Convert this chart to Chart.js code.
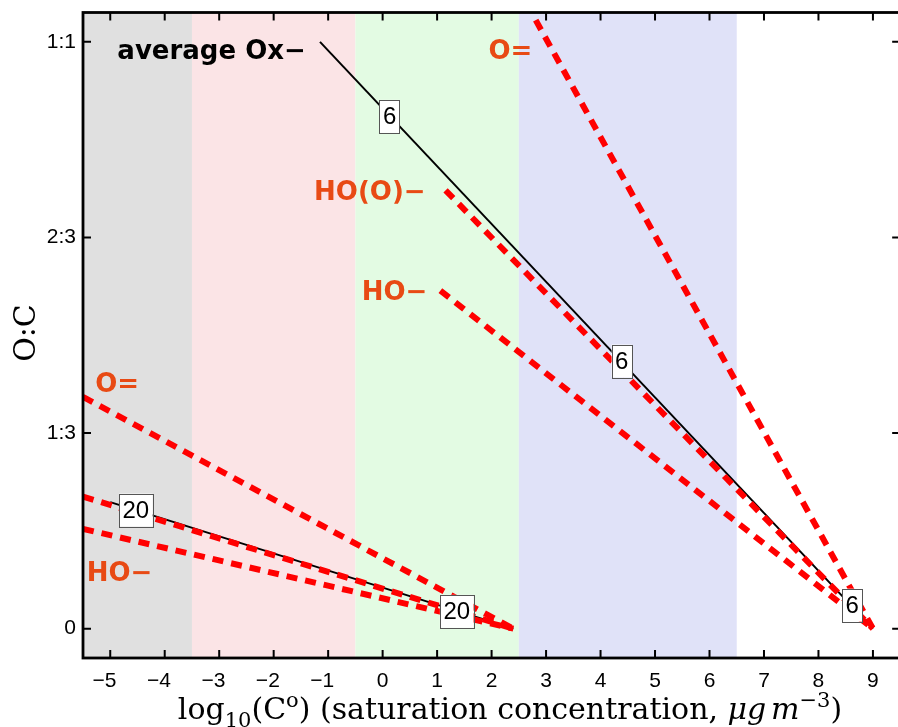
<!DOCTYPE html>
<html>
<head>
<meta charset="utf-8">
<script src="https://cdn.jsdelivr.net/npm/chart.js@4.4.1/dist/chart.umd.min.js"></script>
<style>
html, body { margin: 0; padding: 0; background: #fff; }
#wrap { width: 898px; height: 727px; }
</style>
</head>
<body>
<div id="wrap"><canvas id="oxChart" width="898" height="727"></canvas></div>
<script>
// axis ticks
var xTickValues = [-5, -4, -3, -2, -1, 0, 1, 2, 3, 4, 5, 6, 7, 8, 9];
var yTickValues = [0, 1 / 3, 2 / 3, 1];
var yTickLabels = ['0', '1:3', '2:3', '1:1'];

// volatility bands (log10 C*)
var bandEdges = [-5.5, -3.5, -0.5, 2.5, 6.5];

// C6 trajectories (x = log10 C*, y = O:C)
var c6AvgX = [-1.15, 9];     var c6AvgY = [1.0, 0];
var c6KetoX = [2.81, 9];     var c6KetoY = [1.037, 0];
var c6HydroxyX = [1.155, 9]; var c6HydroxyY = [0.747, 0];
var c6AlcoholX = [1.06, 9];  var c6AlcoholY = [0.576, 0];

// C20 trajectories
var c20AvgX = [-5.0, 2.4];     var c20AvgY = [0.2157, 0];
var c20KetoX = [-5.5, 2.4];    var c20KetoY = [0.395, 0];
var c20HydroxyX = [-5.5, 2.4]; var c20HydroxyY = [0.225, 0];
var c20AlcoholX = [-5.5, 2.4]; var c20AlcoholY = [0.17, 0];

// functional group labels, anchored at their right end
var groupLabels = ['average Ox\u2212', 'O=', 'HO(O)\u2212', 'HO\u2212', 'O=', 'HO\u2212'];
var groupLabelX = [-1.41, 2.747, 0.789, 0.82, -4.47, -4.226];
var groupLabelY = [0.97, 0.97, 0.7297, 0.5593, 0.403, 0.081];

// carbon number tags on the average lines
var carbonLabels = ['6', '6', '6', '20', '20'];
var carbonX = [0.128, 4.39, 8.62, -4.53, 1.36];
var carbonY = [0.873, 0.456, 0.04, 0.202, 0.0295];

var bandColors = ['#e0e0e0', '#fbe4e6', '#e3fbe3', '#e0e2f8'];
var red = '#ff0000';
var orange = '#e84a14';

function pts(xs, ys) {
    return xs.map(function (x, i) { return { x: x, y: ys[i] }; });
}

function dashed(xs, ys) {
    return { data: pts(xs, ys), borderColor: red, borderWidth: 6, borderDash: [11, 8], borderCapStyle: 'butt', pointRadius: 0, showLine: true };
}
function solid(xs, ys) {
    return { data: pts(xs, ys), borderColor: '#000', borderWidth: 2, pointRadius: 0, showLine: true };
}

var volatilityBands = {
    id: 'volatilityBands',
    beforeDatasetsDraw: function (chart) {
        var a = chart.chartArea, x = chart.scales.x, ctx = chart.ctx;
        ctx.save();
        ctx.beginPath();
        ctx.rect(a.left, a.top, a.right - a.left, a.bottom - a.top);
        ctx.clip();
        for (var i = 0; i < bandEdges.length - 1; i++) {
            var l = x.getPixelForValue(bandEdges[i]);
            var r = x.getPixelForValue(bandEdges[i + 1]);
            ctx.fillStyle = bandColors[i];
            ctx.fillRect(l, a.top, r - l, a.bottom - a.top);
        }
        ctx.restore();
    }
};

var labelsPlugin = {
    id: 'labelsPlugin',
    afterDatasetsDraw: function (chart) {
        var x = chart.scales.x, y = chart.scales.y, ctx = chart.ctx;
        ctx.save();
        ctx.font = 'bold 26px "DejaVu Sans"';
        ctx.textAlign = 'right';
        ctx.textBaseline = 'alphabetic';
        groupLabels.forEach(function (t, i) {
            ctx.fillStyle = i === 0 ? '#000' : orange;
            ctx.fillText(t, x.getPixelForValue(groupLabelX[i]), y.getPixelForValue(groupLabelY[i]));
        });

        ctx.font = '24px "Liberation Sans"';
        ctx.textAlign = 'center';
        ctx.textBaseline = 'middle';
        carbonLabels.forEach(function (t, i) {
            var cx = x.getPixelForValue(carbonX[i]), cy = y.getPixelForValue(carbonY[i]);
            var w = ctx.measureText(t).width + 7, h = 33;
            ctx.fillStyle = '#fff';
            ctx.fillRect(cx - w / 2, cy - h / 2, w, h);
            ctx.strokeStyle = '#555';
            ctx.lineWidth = 1;
            ctx.strokeRect(Math.round(cx - w / 2) + 0.5, Math.round(cy - h / 2) + 0.5, Math.round(w), h);
            ctx.fillStyle = '#000';
            ctx.fillText(t, cx, cy + 1);
        });
        ctx.restore();
    }
};

var framePlugin = {
    id: 'framePlugin',
    afterDraw: function (chart) {
        var a = chart.chartArea, x = chart.scales.x, y = chart.scales.y, ctx = chart.ctx;
        var right = x.getPixelForValue(9.5);
        ctx.save();
        ctx.strokeStyle = '#000';
        ctx.lineWidth = 2;
        xTickValues.forEach(function (v) {
            var px = x.getPixelForValue(v);
            ctx.beginPath();
            ctx.moveTo(px, a.bottom); ctx.lineTo(px, a.bottom - 8);
            ctx.moveTo(px, a.top); ctx.lineTo(px, a.top + 8);
            ctx.stroke();
        });
        yTickValues.forEach(function (v) {
            var py = y.getPixelForValue(v);
            ctx.beginPath();
            ctx.moveTo(a.left, py); ctx.lineTo(a.left + 8, py);
            ctx.moveTo(right, py); ctx.lineTo(right - 8, py);
            ctx.stroke();
        });
        ctx.lineWidth = 2.8;
        ctx.strokeRect(a.left, a.top, right - a.left, a.bottom - a.top);

        // axis titles
        ctx.fillStyle = '#000';
        ctx.textBaseline = 'alphabetic';
        var base = 30, serif = '"DejaVu Serif"';
        var parts = [
            { t: 'log', s: 1, dy: 0 },
            { t: '10', s: 0.7, dy: 0.28 },
            { t: '(C', s: 1, dy: 0 },
            { t: 'o', s: 0.7, dy: -0.4 },
            { t: ') (saturation concentration, ', s: 1, dy: 0 },
            { t: '\u03bcg', s: 1, dy: 0, it: true },
            { t: ' ', s: 0.5, dy: 0 },
            { t: 'm', s: 1, dy: 0, it: true },
            { t: '\u22123', s: 0.7, dy: -0.4 },
            { t: ')', s: 1, dy: 0 }
        ];
        var total = 0;
        parts.forEach(function (p) {
            ctx.font = (p.it ? 'italic ' : '') + Math.round(base * p.s) + 'px ' + serif;
            p.w = ctx.measureText(p.t).width;
            total += p.w;
        });
        var cx = 510 - total / 2, by = 719;
        ctx.textAlign = 'left';
        parts.forEach(function (p) {
            ctx.font = (p.it ? 'italic ' : '') + Math.round(base * p.s) + 'px ' + serif;
            ctx.fillText(p.t, cx, by + p.dy * base);
            cx += p.w;
        });

        ctx.translate(27, 333);
        ctx.rotate(-Math.PI / 2);
        ctx.textAlign = 'center';
        ctx.textBaseline = 'middle';
        ctx.font = base + 'px ' + serif;
        ctx.fillText('O:C', 0, 0);
        ctx.restore();
    }
};

new Chart(document.getElementById('oxChart'), {
    type: 'scatter',
    data: {
        datasets: [
            dashed(c6KetoX, c6KetoY),
            dashed(c6HydroxyX, c6HydroxyY),
            dashed(c6AlcoholX, c6AlcoholY),
            dashed(c20KetoX, c20KetoY),
            dashed(c20HydroxyX, c20HydroxyY),
            dashed(c20AlcoholX, c20AlcoholY),
            solid(c6AvgX, c6AvgY),
            solid(c20AvgX, c20AvgY)
        ]
    },
    options: {
        responsive: false,
        animation: false,
        layout: { padding: { top: 12.5, right: 0, left: 0, bottom: 0 } },
        plugins: { legend: { display: false }, tooltip: { enabled: false } },
        scales: {
            x: {
                type: 'linear', min: -5.5, max: 9.46,
                grid: { display: false, drawTicks: false }, border: { display: false },
                afterBuildTicks: function (s) { s.ticks = xTickValues.map(function (v) { return { value: v }; }); },
                afterFit: function (s) { s.height = 69; s.paddingLeft = 0; s.paddingRight = 0; },
                ticks: {
                    padding: 11, color: '#000', maxRotation: 0, autoSkip: false,
                    font: { family: '"Liberation Sans"', size: 21 },
                    callback: function (v) { return v < 0 ? '\u2212' + Math.abs(v) + '  ' : String(v); }
                }
            },
            y: {
                type: 'linear', min: -0.05, max: 1.05,
                grid: { display: false, drawTicks: false }, border: { display: false },
                afterBuildTicks: function (s) { s.ticks = yTickValues.map(function (v) { return { value: v }; }); },
                afterFit: function (s) { s.width = 83; s.paddingTop = 0; s.paddingBottom = 0; },
                ticks: {
                    padding: 7, color: '#000', autoSkip: false,
                    font: { family: '"Liberation Sans"', size: 21 },
                    callback: function (v, i) { return yTickLabels[i]; }
                }
            }
        }
    },
    plugins: [volatilityBands, labelsPlugin, framePlugin]
});
</script>
</body>
</html>
